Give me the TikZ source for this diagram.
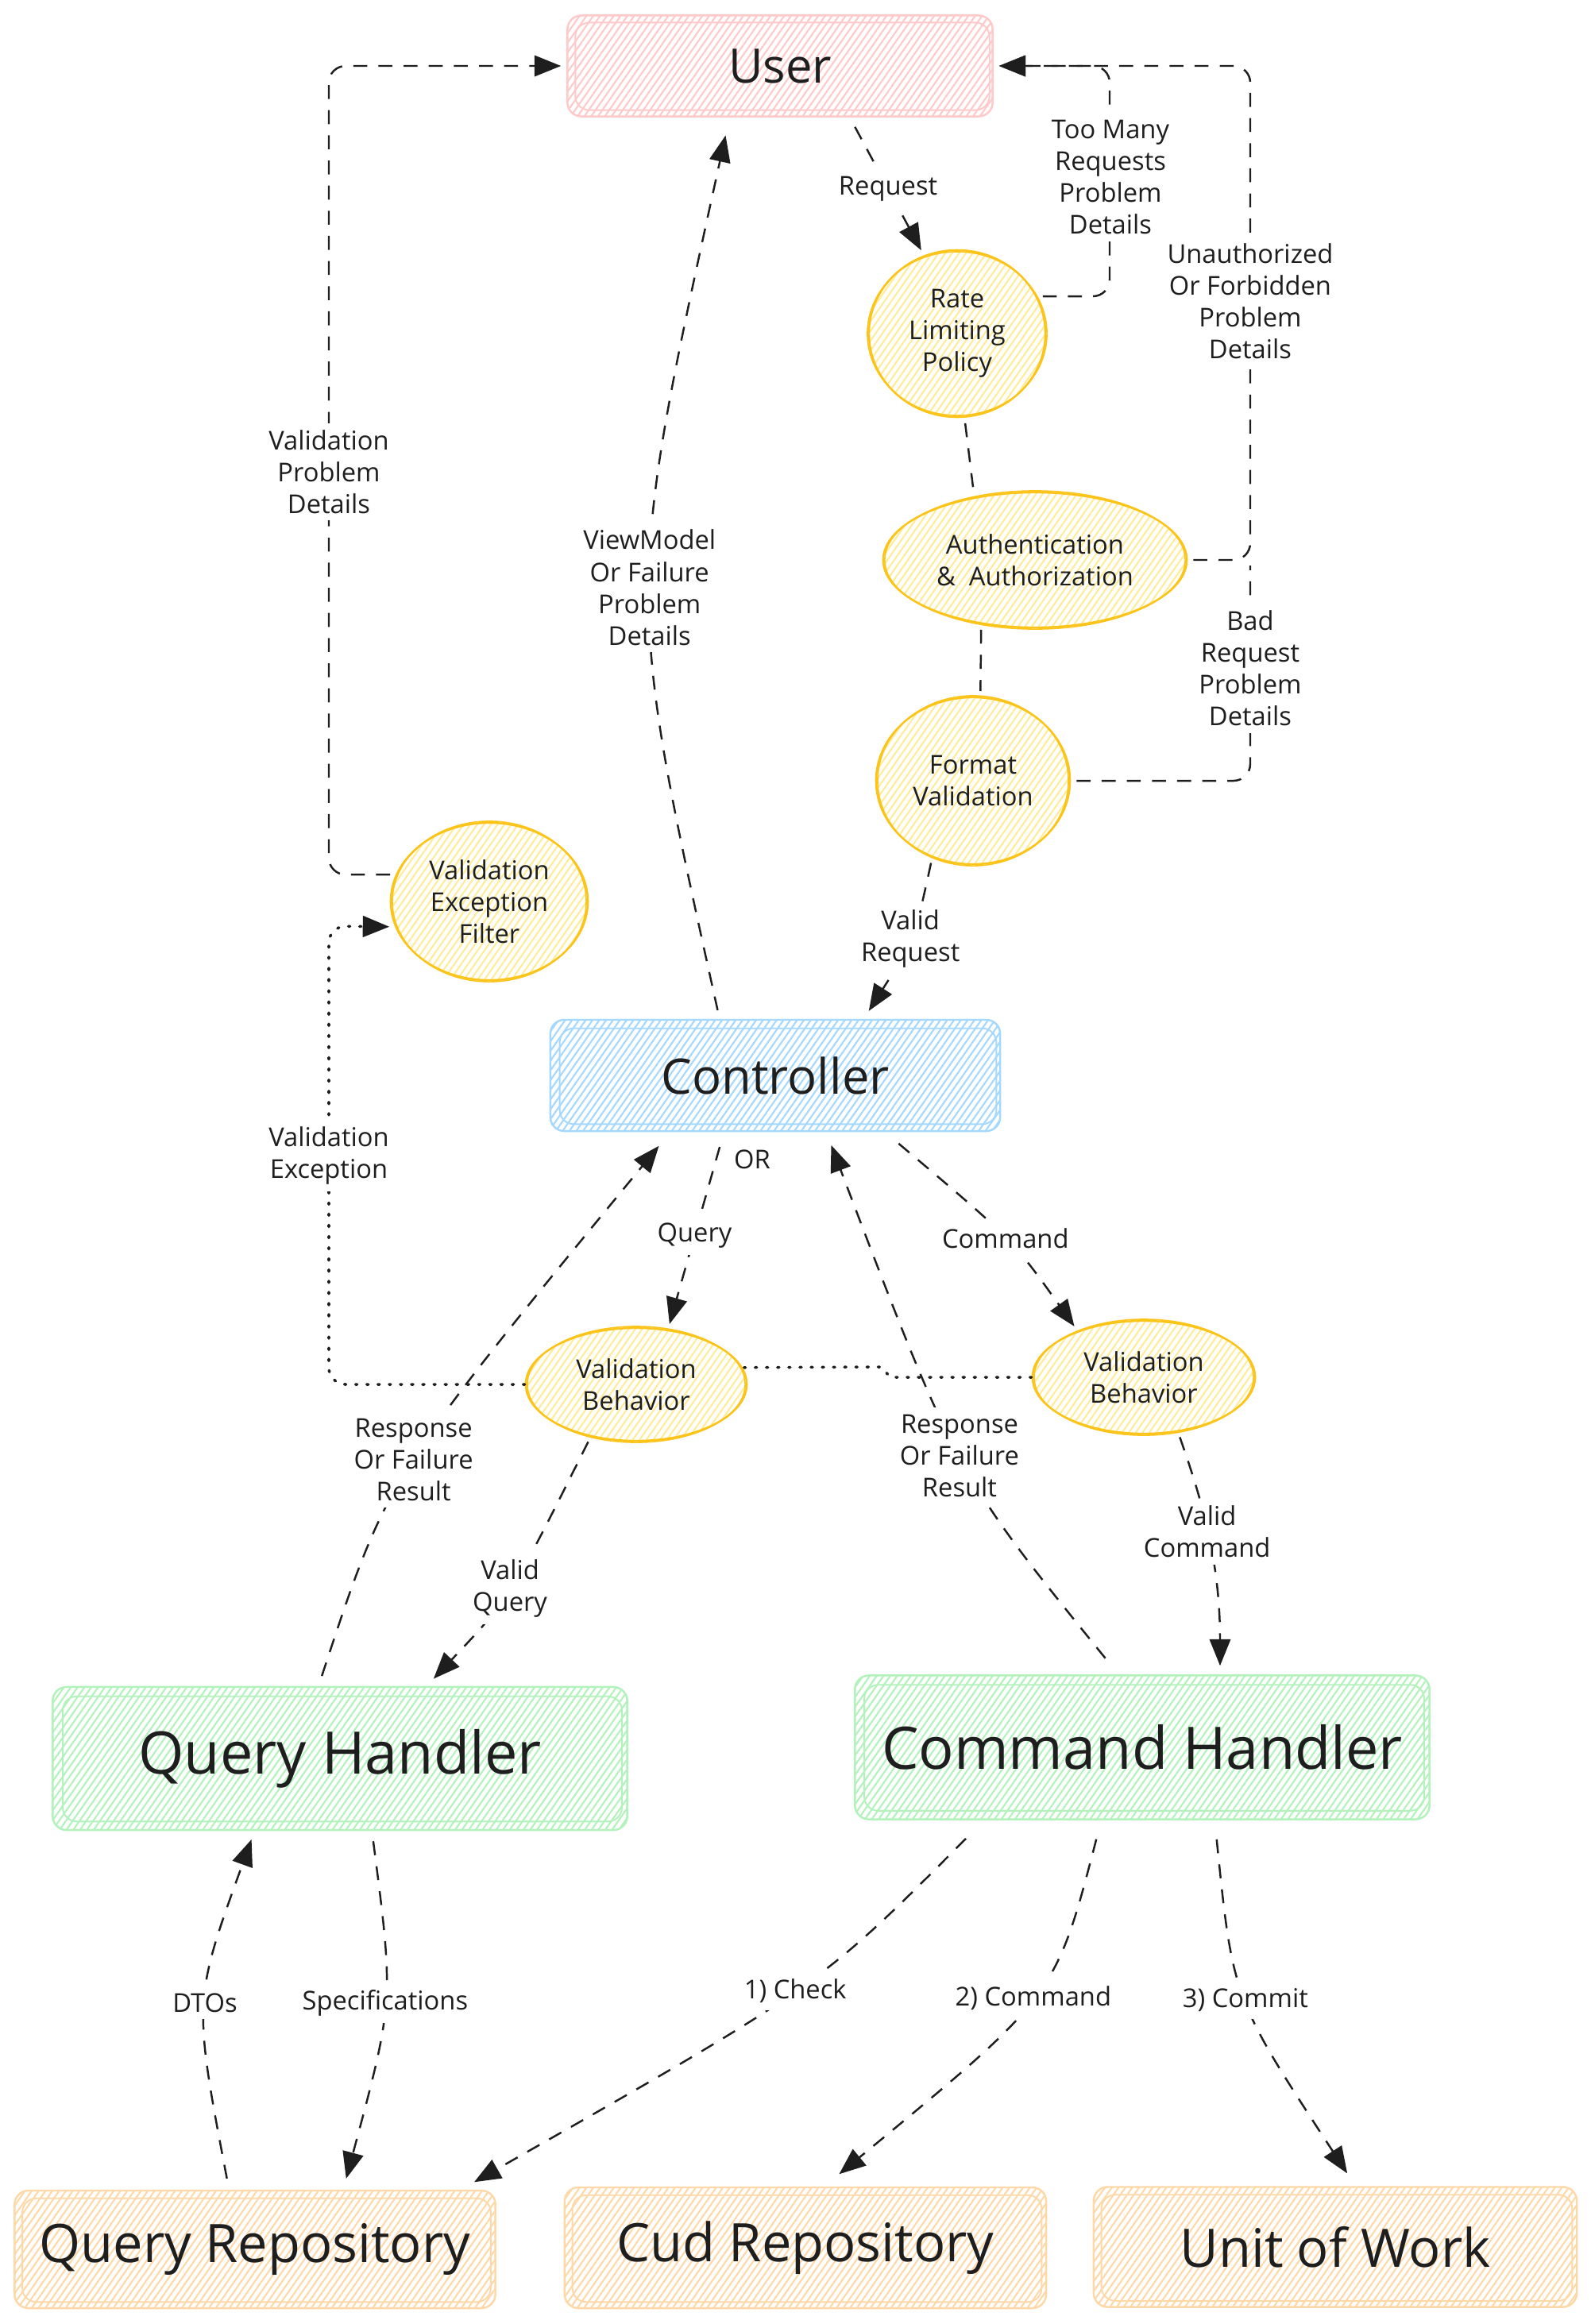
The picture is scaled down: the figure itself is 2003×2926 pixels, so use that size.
\documentclass[tikz,border=0pt]{standalone}
\usepackage{fontspec}
\setmainfont{Open Sans}
\usetikzlibrary{shapes.geometric,arrows.meta,patterns.meta,calc}
\definecolor{ink}{HTML}{1E1E1E}
\definecolor{pinkS}{HTML}{FFC9C9}
\definecolor{blueS}{HTML}{A5D8FF}
\definecolor{greenS}{HTML}{B2F2BB}
\definecolor{orangeS}{HTML}{FFD8A8}
\definecolor{yelS}{HTML}{FCC419}
\definecolor{yelH}{HTML}{FFEC99}
\newcommand\fsmall{\fontsize{9.3pt}{11.4pt}\selectfont}
\begin{document}
\begin{tikzpicture}[x=0.01cm,y=-0.01cm,
  hatch/.style={pattern={Lines[angle=55,distance=2pt,line width=0.6pt]}},
  rbox/.style={rectangle, rounded corners=5pt, line width=0.7pt, inner sep=0pt, text=ink, hatch},
  pinkbox/.style={rbox, draw=pinkS, pattern color=pinkS},
  bluebox/.style={rbox, draw=blueS, pattern color=blueS},
  greenbox/.style={rbox, draw=greenS, pattern color=greenS},
  orangebox/.style={rbox, draw=orangeS, pattern color=orangeS},
  oval/.style={ellipse, draw=yelS, line width=0.7pt, hatch, pattern color=yelH, inner sep=0pt, align=center, text=ink, font=\fsmall},
  second/.style={line width=0.55pt, rounded corners=5pt},
  flow/.style={draw=ink, line width=0.7pt, dash pattern=on 5pt off 4pt, -{Triangle[length=9.5pt,width=7.5pt]}, shorten >=2pt, shorten <=2pt},
  link/.style={draw=ink, line width=0.7pt, dash pattern=on 5pt off 4pt, shorten >=2pt, shorten <=2pt},
  dotflow/.style={draw=ink, line width=1pt, dash pattern=on 0.6pt off 3.4pt, line cap=round, -{Triangle[length=9.5pt,width=7.5pt]}, shorten >=2pt},
  dotline/.style={draw=ink, line width=1pt, dash pattern=on 0.6pt off 3.4pt, line cap=round},
  lab/.style={fill=white, inner sep=2.5pt, align=center, text=ink, font=\fsmall},
  txt/.style={inner sep=1pt, text=ink, font=\fsmall}
]
\fill[white] (0,0) rectangle (2003,2926);
\useasboundingbox (0,0) rectangle (2003,2926);

% ---------- boxes ----------
\node[pinkbox, minimum width=5.35cm, minimum height=1.27cm, font={\fontsize{17pt}{20pt}\selectfont}] (user) at (982,83) {User};
\node[bluebox, minimum width=5.66cm, minimum height=1.40cm, font={\fontsize{17.5pt}{21pt}\selectfont}] (ctrl) at (976,1354) {Controller};
\node[greenbox, minimum width=7.23cm, minimum height=1.80cm, font={\fontsize{21pt}{25pt}\selectfont}] (qh) at (428,2214) {Query Handler};
\node[greenbox, minimum width=7.23cm, minimum height=1.81cm, font={\fontsize{21pt}{25pt}\selectfont}] (ch) at (1438,2200) {Command Handler};
\node[orangebox, minimum width=6.05cm, minimum height=1.48cm, font={\fontsize{19pt}{23pt}\selectfont}] (qr) at (321,2832) {Query Repository};
\node[orangebox, minimum width=6.06cm, minimum height=1.52cm, font={\fontsize{19pt}{23pt}\selectfont}] (cud) at (1014,2830) {Cud Repository};
\node[orangebox, minimum width=6.08cm, minimum height=1.51cm, font={\fontsize{19pt}{23pt}\selectfont}] (uow) at (1681,2829) {Unit of Work};

\draw[second, pinkS] ([shift={(11,10)}]user.north west) rectangle ([shift={(-5,-9)}]user.south east);
\draw[second, blueS] ([shift={(13,12)}]ctrl.north west) rectangle ([shift={(-6,-10)}]ctrl.south east);
\draw[second, greenS] ([shift={(14,13)}]qh.north west) rectangle ([shift={(-8,-12)}]qh.south east);
\draw[second, greenS] ([shift={(13,13)}]ch.north west) rectangle ([shift={(-8,-12)}]ch.south east);
\draw[second, orangeS] ([shift={(11,11)}]qr.north west) rectangle ([shift={(-7,-9)}]qr.south east);
\draw[second, orangeS] ([shift={(11,11)}]cud.north west) rectangle ([shift={(-7,-9)}]cud.south east);
\draw[second, orangeS] ([shift={(11,11)}]uow.north west) rectangle ([shift={(-7,-9)}]uow.south east);

% ---------- ellipses ----------
\node[oval, minimum width=2.22cm, minimum height=2.10cm] (rlp) at (1205,420) {Rate\\Limiting\\Policy};
\node[oval, minimum width=3.82cm, minimum height=1.70cm] (auth) at (1303,705) {Authentication\\\&~ Authorization};
\node[oval, minimum width=2.44cm, minimum height=2.10cm] (fv) at (1225,983) {Format\\Validation};
\node[oval, minimum width=2.48cm, minimum height=1.98cm] (vef) at (616,1135) {Validation\\Exception\\Filter};
\node[oval, minimum width=2.78cm, minimum height=1.42cm] (lvb) at (801,1743) {Validation\\Behavior};
\node[oval, minimum width=2.80cm, minimum height=1.42cm] (rvb) at (1440,1734) {Validation\\Behavior};

\draw[yelS, line width=0.45pt] (rlp.center) ellipse [x radius=1.13cm, y radius=1.03cm];
\draw[yelS, line width=0.45pt] (auth.center) ellipse [x radius=1.89cm, y radius=0.87cm];
\draw[yelS, line width=0.45pt] (fv.center) ellipse [x radius=1.20cm, y radius=1.07cm];
\draw[yelS, line width=0.45pt] (vef.center) ellipse [x radius=1.22cm, y radius=1.01cm];
\draw[yelS, line width=0.45pt] (lvb.center) ellipse [x radius=1.37cm, y radius=0.73cm];
\draw[yelS, line width=0.45pt] (rvb.center) ellipse [x radius=1.38cm, y radius=0.73cm];

% ---------- bend points ----------
\coordinate (k1) at (1397,83);
\coordinate (k2) at (1574,83);
\coordinate (k3) at (1574,705);
\coordinate (k4) at (414,83);
\coordinate (k5) at (414,1166);
\coordinate (k6) at (1121,1734);
\coordinate (k7) at (1109,1721);

% ---------- connectors: top ----------
\draw[flow] ($(user.south)+(91,6)$) -- node[lab]{Request} (rlp.113);
\draw[flow, rounded corners=6pt] (rlp.25) -| (k1) -- (user.east);
\draw[flow, rounded corners=6pt] (auth.east) -- (k3) -- (k2) -- (user.east);
\draw[link, rounded corners=6pt] (fv.east) -| (k3);
\node[lab] (l2) at (1398,223) {Too Many\\Requests\\Problem\\Details};
\node[lab] (l3) at (1574,379) {Unauthorized\\Or Forbidden\\Problem\\Details};
\node[lab] (l4) at (1574,841) {Bad\\Request\\Problem\\Details};

\draw[link] (rlp.-85) -- (auth.134);
\draw[link] (auth.230) -- (fv.85);
\draw[flow] (fv.-118) .. controls (1151,1183) .. ($(ctrl.north)+(114,-4)$) node[lab,pos=0.5]{Valid\\Request};
\draw[flow] ($(ctrl.north)+(-71,-4)$) .. controls (787,746) .. ($(user.south)+(-67,16)$) node[lab,pos=0.5]{ViewModel\\Or Failure\\Problem\\Details};

\draw[flow, rounded corners=6pt] (vef.164) -| (k4) -- (user.west);
\node[lab] (l9) at (414,594) {Validation\\Problem\\Details};
\draw[dotflow, rounded corners=6pt] (lvb.west) -| (k5) -- (vef.195);
\node[lab] (l10) at (414,1455) {Validation\\Exception};
\draw[dotline] (rvb.west) -- (k6) -- (k7) -- (lvb.9);

% ---------- connectors: middle ----------
\draw[flow] ($(ctrl.south)+(-68,12)$) -- node[lab]{Query} (lvb.60);
\node[txt] (or) at (947,1460) {OR};
\draw[flow] ($(ctrl.south)+(150,10)$) .. controls (1274,1560) .. (rvb.145) node[lab,pos=0.5]{Command};
\draw[flow] (lvb.-131) .. controls (642,2012) .. ($(qh.north)+(113,-4)$) node[lab,pos=0.5]{Valid\\Query};
\draw[flow] (rvb.-58) .. controls (1510,1880) and (1536,1960) .. ($(ch.north)+(98,-4)$) node[lab,pos=0.5]{Valid\\Command};
\draw[flow] ($(qh.north)+(-25,-6)$) .. controls (488,1858) .. ($(ctrl.south)+(-142,12)$) node[lab,pos=0.5]{Response\\Or Failure\\Result};
\draw[flow] ($(ch.north)+(-42,-15)$) .. controls (1204,1856) .. ($(ctrl.south)+(68,10)$) node[lab,pos=0.5]{Response\\Or Failure\\Result};

% ---------- connectors: bottom ----------
\draw[flow] ($(qh.south)+(41,6)$) .. controls (496,2519) .. ($(qr.north)+(113,-7)$) node[lab,pos=0.5]{Specifications};
\draw[flow] ($(qr.north)+(-34,-7)$) .. controls (243,2519) .. ($(qh.south)+(-109,4)$) node[lab,pos=0.5]{DTOs};
\draw[flow] ($(ch.south)+(-217,18)$) .. controls (1033,2499) .. ($(qr.north east)+(-34,-6)$) node[lab,pos=0.5]{1) Check};
\draw[flow] ($(ch.south)+(-56,17)$) .. controls (1329,2513) .. ($(cud.north)+(37,-11)$) node[lab,pos=0.5]{2) Command};
\draw[flow] ($(ch.south)+(93,17)$) .. controls (1552,2516) .. ($(uow.north)+(19,-10)$) node[lab,pos=0.5]{3) Commit};
\end{tikzpicture}
\end{document}
